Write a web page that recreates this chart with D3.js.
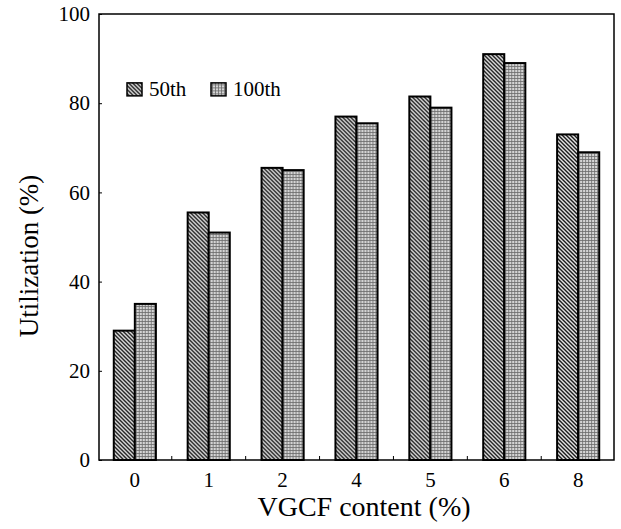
<!DOCTYPE html>
<html>
<head>
<meta charset="utf-8">
<script src="https://cdn.jsdelivr.net/npm/d3@7"></script>
</head>
<body style="margin:0">
<script>
const categories = ["0", "1", "2", "4", "5", "6", "8"];
const seriesNames = ["50th", "100th"];
const cycle50 = [29, 55.5, 65.5, 77, 81.5, 91, 73];
const cycle100 = [35, 51, 65, 75.5, 79, 89, 69];
const yTicks = [0, 20, 40, 60, 80, 100];

const serif = '"Liberation Serif", "Times New Roman", serif';

const margin = {top: 14, right: 7, bottom: 69, left: 99},
    width = 621 - margin.left - margin.right,
    height = 529 - margin.top - margin.bottom;

const svg = d3.select("body")
  .append("svg")
    .attr("width", 621)
    .attr("height", 529);

const defs = svg.append("defs");
// diagonal hatch for 50th
const hatch = defs.append("pattern")
    .attr("id", "hatch")
    .attr("patternUnits", "userSpaceOnUse")
    .attr("width", 4).attr("height", 4);
hatch.append("rect").attr("width", 4).attr("height", 4).attr("fill", "#eee");
hatch.append("path")
    .attr("d", "M-1,-1 L5,5 M-1,3 L1,5 M3,-1 L5,1")
    .attr("stroke", "#111").attr("stroke-width", 1.4);
// fine grid for 100th
const grid = defs.append("pattern")
    .attr("id", "grid")
    .attr("patternUnits", "userSpaceOnUse")
    .attr("width", 3).attr("height", 3);
grid.append("rect").attr("width", 3).attr("height", 3).attr("fill", "#d4d4d4");
grid.append("path")
    .attr("d", "M1.5,0 V3 M0,1.5 H3")
    .attr("stroke", "#6a6a6a").attr("stroke-width", 0.8);

const g = svg.append("g")
    .attr("transform", `translate(${margin.left},${margin.top})`);

const x = d3.scaleBand()
  .domain(categories)
  .range([0, width])
  .paddingInner(0.43)
  .paddingOuter(0.2);

const xSub = d3.scaleBand()
  .domain(seriesNames)
  .range([0, x.bandwidth()]);

const y = d3.scaleLinear()
  .domain([0, 100])
  .range([height, 0]);

const data = categories.map((c, i) => ({cat: c, values: [
  {name: "50th", v: cycle50[i]},
  {name: "100th", v: cycle100[i]}
]}));

const fills = {"50th": "url(#hatch)", "100th": "url(#grid)"};

g.selectAll(".grp")
  .data(data)
  .join("g")
    .attr("transform", d => `translate(${x(d.cat)},0)`)
  .selectAll("rect")
  .data(d => d.values)
  .join("rect")
    .attr("x", d => xSub(d.name))
    .attr("y", d => y(d.v))
    .attr("width", xSub.bandwidth())
    .attr("height", d => height - y(d.v))
    .attr("fill", d => fills[d.name])
    .attr("stroke", "#000")
    .attr("stroke-width", 2);

// frame
g.append("rect")
    .attr("width", width).attr("height", height)
    .attr("fill", "none").attr("stroke", "#000").attr("stroke-width", 1.5);

// bottom axis: labels centred on groups, ticks between groups
const xAxis = g.append("g")
    .attr("transform", `translate(0,${height})`)
    .call(d3.axisBottom(x).tickSize(0).tickPadding(12));
xAxis.select(".domain").remove();
xAxis.attr("font-family", null).attr("font-size", null);
xAxis.selectAll("text")
    .style("font-family", serif)
    .style("font-size", "21px")
    .attr("fill", "#000");

const step = x.step();
g.append("g").selectAll("line")
  .data(categories.slice(1))
  .join("line")
    .attr("x1", d => x(d) - step * x.paddingInner() / 2)
    .attr("x2", d => x(d) - step * x.paddingInner() / 2)
    .attr("y1", height).attr("y2", height - 4)
    .attr("stroke", "#000");

const yAxis = g.append("g")
    .call(d3.axisLeft(y).tickValues(yTicks).tickSize(-3).tickPadding(9));
yAxis.select(".domain").remove();
yAxis.attr("font-family", null).attr("font-size", null);
yAxis.selectAll("text")
    .style("font-family", serif)
    .style("font-size", "21px")
    .attr("fill", "#000");

// axis titles
svg.append("text")
    .attr("x", 364)
    .attr("y", 516)
    .attr("text-anchor", "middle")
    .style("font-family", serif)
    .style("font-size", "28px")
    .text("VGCF content (%)");

svg.append("text")
    .attr("transform", "translate(38,256) rotate(-90)")
    .attr("text-anchor", "middle")
    .style("font-family", serif)
    .style("font-size", "27px")
    .text("Utilization (%)");

// legend
const legend = g.append("g")
    .attr("transform", `translate(28,${y(83.1)})`);
const items = legend.selectAll("g")
  .data(seriesNames)
  .join("g")
    .attr("transform", (d, i) => `translate(${i * 84},0)`);
items.append("rect")
    .attr("y", -6.5).attr("width", 15).attr("height", 13)
    .attr("fill", d => fills[d])
    .attr("stroke", "#000").attr("stroke-width", 1.5);
items.append("text")
    .attr("x", 22).attr("y", 7)
    .style("font-family", serif)
    .style("font-size", "21px")
    .text(d => d);
</script>
</body>
</html>
